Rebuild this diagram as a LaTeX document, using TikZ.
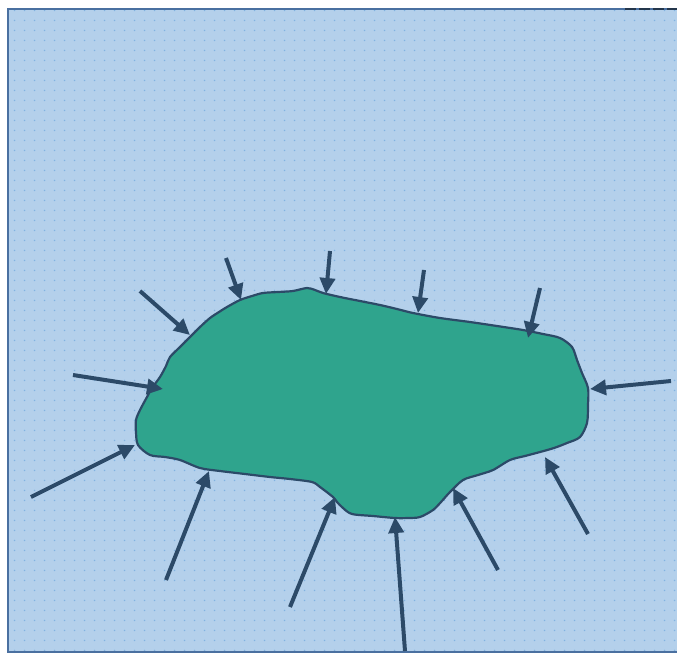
\documentclass[tikz,border=0pt]{standalone}
\usetikzlibrary{arrows.meta,patterns.meta}
\definecolor{bgblue}{HTML}{B4D0EB}
\definecolor{dotblue}{HTML}{80B2E2}
\definecolor{frameblue}{HTML}{4A70A0}
\definecolor{blobgreen}{HTML}{2FA48D}
\definecolor{inkblue}{HTML}{2C4A68}
\definecolor{dashdark}{HTML}{24374C}
\tikzdeclarepattern{name=bgdots, type=uncolored,
  bounding box={(0pt,0pt) and (10pt,10pt)}, tile size={(10pt,10pt)},
  code={\fill (5pt,5pt) circle (0.9pt);}}
\begin{document}
\begin{tikzpicture}[x=1pt,y=-1pt,
  arr/.style={draw=inkblue, line width=4pt, -{Triangle[length=16pt,width=15pt]}},
  blobstyle/.style={fill=blobgreen, draw=inkblue, line width=2.2pt, line join=round}]
\useasboundingbox (0,0) rectangle (677,654);
% background
\fill[bgblue] (7.5,8.5) rectangle (677,651.5);
\fill[pattern=bgdots, pattern color=dotblue] (7.5,8.5) rectangle (677,651.5);
% blob
\path[blobstyle] plot[smooth cycle, tension=0.5] coordinates {(147,397) (152,388) (160,377) (166,366) (170,357) (180,347) (190,337) (200,327) (210,318) (219,312) (227,307) (240,300) (252,296) (263,293) (278,292) (293,291) (307,288) (315,290) (323,293) (340,297) (360,301) (380,305) (397,309) (413,313) (440,318) (470,322) (497,326) (523,330) (543,334) (560,338) (572,347) (577,360) (582,373) (588,388) (588,405) (587,423) (580,437) (567,443) (554,448) (540,452) (525,456) (510,460) (493,470) (478,475) (463,480) (450,492) (441,502) (433,510) (420,517) (408,518) (395,518) (373,516) (352,514) (343,508) (337,502) (333,497) (320,487) (312,482) (290,479) (270,477) (245,474) (220,471) (200,468) (180,460) (165,457) (150,455) (138,445) (136,432) (136,420) (140,410)};
% frame
\draw[frameblue, line width=2pt] (677,8.5) -- (7.5,8.5) -- (7.5,651.5) -- (677,651.5);
\draw[dashdark, line width=2pt, dash pattern=on 11pt off 3pt] (625,8.5) -- (677,8.5);
% arrow ends
\coordinate (t1) at (140,291);  \coordinate (h1) at (190,335);
\coordinate (t2) at (226,258);  \coordinate (h2) at (241,300);
\coordinate (t3) at (330,251);  \coordinate (h3) at (326,294);
\coordinate (t4) at (424,270);  \coordinate (h4) at (418,313);
\coordinate (t5) at (540,288);  \coordinate (h5) at (528,338);
\coordinate (t6) at (671,381);  \coordinate (h6) at (590,389);
\coordinate (t7) at (73,375);   \coordinate (h7) at (163,389);
\coordinate (t8) at (31,497);   \coordinate (h8) at (135,445);
\coordinate (t9) at (166,580);  \coordinate (h9) at (209,471);
\coordinate (t10) at (290,607); \coordinate (h10) at (335,497);
\coordinate (t11) at (405,651); \coordinate (h11) at (395,517);
\coordinate (t12) at (498,570); \coordinate (h12) at (453,488);
\coordinate (t13) at (588,534); \coordinate (h13) at (545,457);
\foreach \i in {1,...,13} \draw[arr] (t\i) -- (h\i);
\end{tikzpicture}
\end{document}
